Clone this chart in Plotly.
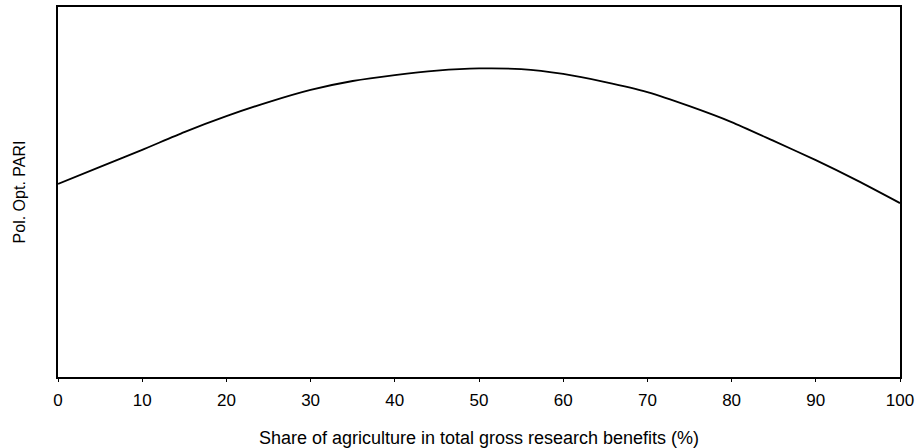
import plotly.graph_objects as go

share = [0, 5, 10, 15, 20, 25, 30, 35, 40, 45, 50, 55, 60, 65, 70, 75, 80, 85, 90, 95, 100]
pari = [52.2, 56.8, 61.4, 66.2, 70.5, 74.3, 77.6, 80.0, 81.6, 82.8, 83.4, 83.2, 81.9, 79.7,
        77.0, 73.2, 68.9, 63.8, 58.6, 53.0, 47.0]
xticks = [0, 10, 20, 30, 40, 50, 60, 70, 80, 90, 100]

fig = go.Figure()
fig.add_trace(go.Scatter(x=share, y=pari, mode="lines",
                         line=dict(color="black", width=1.8, shape="spline", smoothing=0.6),
                         showlegend=False, hoverinfo="skip"))

fig.update_layout(
    width=915, height=448,
    margin=dict(l=58, r=15, t=7, b=71, autoexpand=False),
    paper_bgcolor="white", plot_bgcolor="white",
    font=dict(family="Liberation Sans, Arial, sans-serif", size=17, color="black"),
    xaxis=dict(range=[0, 100], tickvals=xticks, ticktext=[str(v) for v in xticks],
               showgrid=False, zeroline=False, showline=True, mirror=True,
               linecolor="black", linewidth=1.5, ticks="outside", ticklen=3,
               tickcolor="black", tickwidth=1, tickfont=dict(size=17), automargin=False,
               ticklabelstandoff=4,
               title=dict(text="Share of agriculture in total gross research benefits (%)",
                          font=dict(size=18), standoff=22)),
    yaxis=dict(range=[0, 100], showticklabels=False, showgrid=False, zeroline=False,
               showline=True, mirror=True, linecolor="black", linewidth=1.5, ticks="",
               automargin=False,
               title=dict(text="Pol. Opt. PARI", font=dict(size=16), standoff=27)),
)

fig.write_html("out.html", config={"displayModeBar": False},
               post_script="document.body.style.margin='0px';")
